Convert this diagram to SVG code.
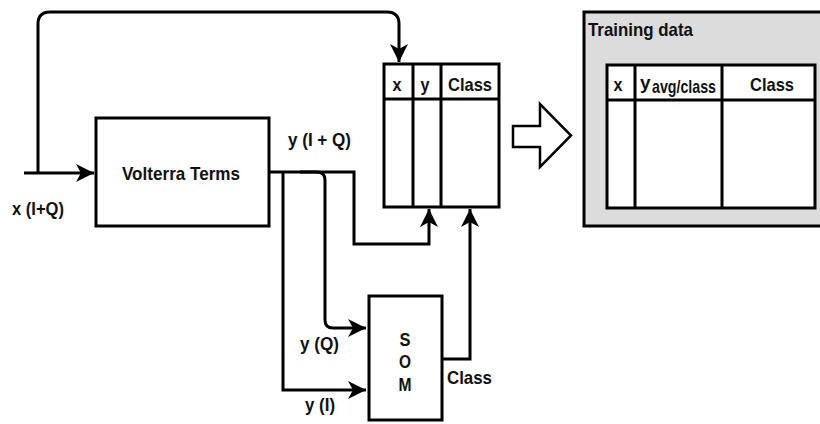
<svg xmlns="http://www.w3.org/2000/svg" width="820" height="424" viewBox="0 0 820 424">
<style>
.box{fill:#fff;stroke:#000;stroke-width:3}
.ln{fill:none;stroke:#000;stroke-width:3}
.t{font-family:"Liberation Sans",Arial,sans-serif;font-weight:bold;font-size:19px;fill:#111}
.c{text-anchor:middle}
</style>
<defs>
<marker id="ah" markerUnits="userSpaceOnUse" markerWidth="20" markerHeight="18" refX="18" refY="9" orient="auto">
<path d="M0,0 L18,9 L0,18 L5,9 z" fill="#000"/>
</marker>
</defs>
<rect width="820" height="424" fill="#fff"/>
<g id="connectors">
<path class="ln" d="M24,173 L94,173" marker-end="url(#ah)"/>
<path class="ln" d="M38,173 L38,24 Q38,12 50,12 L387,12 Q399,12 399,24 L399,62" marker-end="url(#ah)"/>
<path class="ln" d="M269,172 L354,172 L354,244 L429,244 L429,209" marker-end="url(#ah)"/>
<path class="ln" d="M283,172 L283,390 L366,390" marker-end="url(#ah)"/>
<path class="ln" d="M300,172 L317,172 Q325,172 325,180 L325,320 Q325,328 333,328 L366,328" marker-end="url(#ah)"/>
<path class="ln" d="M442,359 L470,359 L470,209" marker-end="url(#ah)"/>
</g>
<g id="volterra">
<rect class="box" x="96" y="118" width="173" height="108"/>
<text class="t c" x="181" y="180" font-size="20" textLength="118" lengthAdjust="spacingAndGlyphs">Volterra Terms</text>
</g>
<g id="labels">
<text class="t" x="12" y="215" textLength="52" lengthAdjust="spacingAndGlyphs">x (I+Q)</text>
<text class="t" x="288" y="146" textLength="63" lengthAdjust="spacingAndGlyphs">y (I + Q)</text>
<text class="t" x="300" y="350" textLength="39" lengthAdjust="spacingAndGlyphs">y (Q)</text>
<text class="t" x="305" y="411" textLength="30" lengthAdjust="spacingAndGlyphs">y (I)</text>
<text class="t" x="447" y="384" textLength="45" lengthAdjust="spacingAndGlyphs">Class</text>
</g>
<g id="table">
<rect class="box" x="384" y="64" width="115" height="143"/>
<path class="ln" d="M384,99 L499,99 M413,64 L413,207 M441,64 L441,207"/>
<text class="t c" x="397" y="91" textLength="9" lengthAdjust="spacingAndGlyphs">x</text>
<text class="t c" x="425" y="91" textLength="9" lengthAdjust="spacingAndGlyphs">y</text>
<text class="t c" x="470" y="91" textLength="44" lengthAdjust="spacingAndGlyphs">Class</text>
</g>
<g id="som">
<rect class="box" x="369" y="296" width="73" height="124"/>
<text class="t c" x="405" y="346" textLength="11" lengthAdjust="spacingAndGlyphs">S</text>
<text class="t c" x="405" y="368" textLength="12" lengthAdjust="spacingAndGlyphs">O</text>
<text class="t c" x="405" y="391" textLength="13" lengthAdjust="spacingAndGlyphs">M</text>
</g>
<g id="bigarrow">
<polygon points="513,126 540,126 540,104 571,135.5 540,167 540,147 513,147" fill="#fff" stroke="#000" stroke-width="2.5" stroke-linejoin="miter"/>
</g>
<g id="training">
<rect x="584" y="12" width="250" height="214" fill="#dcdcdc" stroke="#000" stroke-width="3"/>
<text class="t" x="588" y="36" textLength="105" lengthAdjust="spacingAndGlyphs">Training data</text>
<rect class="box" x="607" y="65" width="208" height="143"/>
<path class="ln" d="M607,100 L815,100 M635,65 L635,208 M722,65 L722,208"/>
<text class="t c" x="618" y="91" textLength="9" lengthAdjust="spacingAndGlyphs">x</text>
<text class="t" x="640" y="89" font-size="20">y</text>
<text class="t" x="652" y="93" font-size="14" textLength="64" lengthAdjust="spacingAndGlyphs">avg/class</text>
<text class="t c" x="772" y="91" textLength="44" lengthAdjust="spacingAndGlyphs">Class</text>
</g>
</svg>
